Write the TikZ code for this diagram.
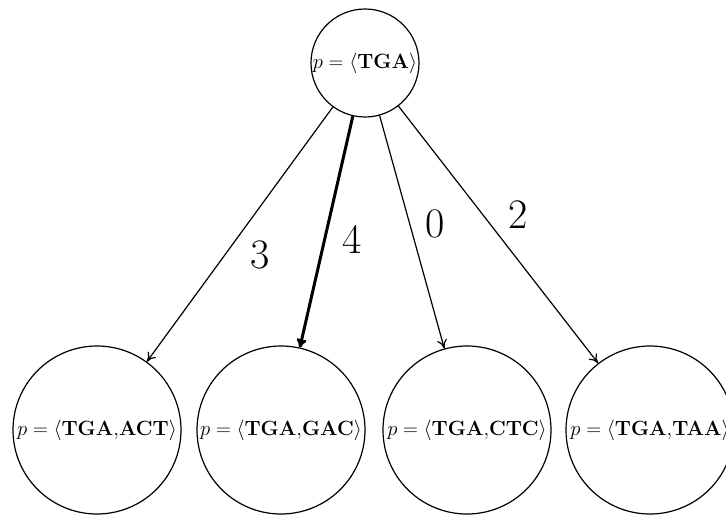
\RequirePackage{fix-cm}
\documentclass[tikz,border=0pt]{standalone}
\usetikzlibrary{arrows.meta}
\begin{document}
\begin{tikzpicture}[x=1pt,y=1pt,
  topnode/.style={circle,draw,line width=1.2pt,inner sep=0pt,minimum size=108pt,font=\fontsize{20.6}{25}\selectfont},
  leafnode/.style={circle,draw,line width=1.2pt,inner sep=0pt,minimum size=168pt,font=\fontsize{20.6}{25}\selectfont},
  edgelab/.style={inner sep=0pt,font=\fontsize{42}{48}\selectfont},
  conn/.style={-{To[length=9pt,width=10pt]},line width=1.2pt},
  bestconn/.style={-{To[length=9pt,width=10pt]},line width=3pt}]
\useasboundingbox (0,0) rectangle (726,-516);
\node[topnode] (root) at (365,-63) {$p=\langle\mathbf{TGA}\rangle$};
\node[leafnode] (a) at (97,-430) {$p=\langle\mathbf{TGA{,}ACT}\rangle$};
\node[leafnode] (b) at (281,-430) {$p=\langle\mathbf{TGA{,}GAC}\rangle$};
\node[leafnode] (c) at (467,-430) {$p=\langle\mathbf{TGA{,}CTC}\rangle$};
\node[leafnode] (d) at (650,-430) {$p=\langle\mathbf{TGA{,}TAA}\rangle$};
\draw[conn] (root) -- (a);
\draw[bestconn] (root) -- (b);
\draw[conn] (root) -- (c);
\draw[conn] (root) -- (d);
\node[edgelab] (la) at (260,-255) {3};
\node[edgelab] (lb) at (352,-239) {4};
\node[edgelab] (lc) at (435,-224) {0};
\node[edgelab] (ld) at (518,-215) {2};
\end{tikzpicture}
\end{document}
